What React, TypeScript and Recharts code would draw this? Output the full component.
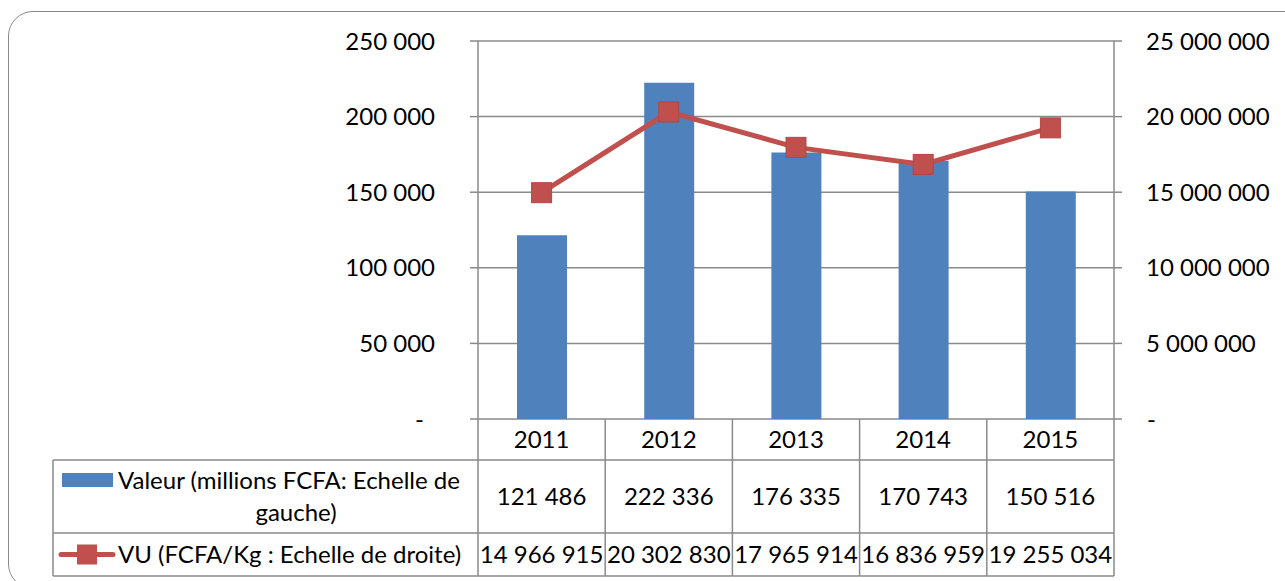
import React from "react";
import { ComposedChart, Bar, Line, XAxis, YAxis, CartesianGrid } from "recharts";

// values
const years = ["2011", "2012", "2013", "2014", "2015"];
const valeur = [121486, 222336, 176335, 170743, 150516];
const vu = [14966915, 20302830, 17965914, 16836959, 19255034];
const leftTicks = [0, 50000, 100000, 150000, 200000, 250000];
const rightTicks = [0, 5000000, 10000000, 15000000, 20000000, 25000000];
const valeurLabel = ["Valeur (millions FCFA: Echelle de", "gauche)"];
const vuLabel = "VU (FCFA/Kg : Echelle de droite)";

const data = years.map((year, i) => ({ year, valeur: valeur[i], vu: vu[i] }));

const W = 1285;
const H = 581;
const PLOT_LEFT = 478;
const PLOT_RIGHT = 1114;
const PLOT_TOP = 41;
const PLOT_BOTTOM = 419;
const BAND = (PLOT_RIGHT - PLOT_LEFT) / years.length;
const ROW1 = 41; // years row
const ROW2 = 73; // valeur row
const ROW3 = 43; // vu row
const TABLE_LEFT = 53;
const FONT = "Lato, 'Open Sans', sans-serif";
const FS = 24;
const GRAY = "#8a8a8a";
const BLUE = "#4F81BD";
const RED = "#C0504D";

const fmt = (v: number) =>
  v === 0 ? "-" : String(v).replace(/\B(?=(\d{3})+(?!\d))/g, " ");

const LeftTick = (props: any) => {
  const { x, y, payload } = props;
  const v = payload.value;
  return (
    <text x={v === 0 ? x - 11 : x} y={y} dy="0.36em" textAnchor="end" fontSize={FS} fontFamily={FONT} fill="#000">
      {fmt(v)}
    </text>
  );
};

const RightTick = (props: any) => {
  const { x, y, payload } = props;
  const v = payload.value;
  return (
    <text x={v === 0 ? x + 1 : x} y={y} dy="0.36em" textAnchor="start" fontSize={FS} fontFamily={FONT} fill="#000">
      {fmt(v)}
    </text>
  );
};

const SquareDot = (props: any) => {
  const { cx, cy, index } = props;
  if (cx == null || cy == null) return null;
  return <rect key={index} x={cx - 10} y={cy - 10} width={20} height={20} fill={RED} stroke="#B54643" strokeWidth={1} />;
};

// each x tick draws its own column of the data table
const TableTick = (props: any) => {
  const { x, y, index } = props;
  const i = props.payload?.index ?? index;
  const left = x - BAND / 2;
  const right = x + BAND / 2;
  const y1 = y + ROW1;
  const y2 = y1 + ROW2;
  const y3 = y2 + ROW3;
  const line = { stroke: GRAY, strokeWidth: 1.5 };
  const txt = { fontSize: FS, fontFamily: FONT, fill: "#000", textAnchor: "middle" as const };
  return (
    <g>
      <line x1={left} y1={y} x2={left} y2={y3} {...line} />
      {i === years.length - 1 && <line x1={right} y1={y} x2={right} y2={y3} {...line} />}
      <line x1={left} y1={y1} x2={right} y2={y1} {...line} />
      <line x1={left} y1={y2} x2={right} y2={y2} {...line} />
      <line x1={left} y1={y3} x2={right} y2={y3} {...line} />
      <text x={x} y={y + ROW1 / 2} dy="0.36em" {...txt}>{years[i]}</text>
      <text x={x} y={y1 + ROW2 / 2} dy="0.36em" {...txt}>{fmt(valeur[i])}</text>
      <text x={x} y={y2 + ROW3 / 2} dy="0.36em" {...txt}>{fmt(vu[i])}</text>
      {i === 0 && (
        <g>
          <line x1={TABLE_LEFT} y1={y1} x2={TABLE_LEFT} y2={y3} {...line} />
          <line x1={TABLE_LEFT} y1={y1} x2={left} y2={y1} {...line} />
          <line x1={TABLE_LEFT} y1={y2} x2={left} y2={y2} {...line} />
          <line x1={TABLE_LEFT} y1={y3} x2={left} y2={y3} {...line} />
          <rect x={TABLE_LEFT + 9} y={y1 + 13} width={51} height={14} fill={BLUE} />
          <text x={118} y={y1 + 20} dy="0.36em" {...txt} textAnchor="start">{valeurLabel[0]}</text>
          <text x={296} y={y1 + 52} dy="0.36em" {...txt}>{valeurLabel[1]}</text>
          <line x1={TABLE_LEFT + 8} y1={y2 + ROW3 / 2} x2={TABLE_LEFT + 60} y2={y2 + ROW3 / 2} stroke={RED} strokeWidth={5} strokeLinecap="round" />
          <rect x={TABLE_LEFT + 24} y={y2 + ROW3 / 2 - 10} width={20} height={20} fill={RED} />
          <text x={118} y={y2 + ROW3 / 2} dy="0.36em" {...txt} textAnchor="start">{vuLabel}</text>
        </g>
      )}
    </g>
  );
};

export default function App() {
  return (
    <div style={{ position: "absolute", left: 0, top: 0, width: W, height: H, background: "#fff", overflow: "hidden" }}>
      <ComposedChart
        width={W}
        height={H}
        data={data}
        margin={{ top: PLOT_TOP, right: 0, bottom: 0, left: 0 }}
        style={{ fontFamily: FONT }}
      >
        <CartesianGrid yAxisId="left" vertical={false} stroke={GRAY} strokeWidth={1.5} />
        <XAxis
          dataKey="year"
          height={H - PLOT_BOTTOM}
          axisLine={false}
          tickLine={false}
          tickSize={0}
          tickMargin={0}
          interval={0}
          tick={<TableTick />}
        />
        <YAxis
          yAxisId="left"
          orientation="left"
          width={PLOT_LEFT}
          domain={[0, 250000]}
          ticks={leftTicks}
          interval={0}
          axisLine={{ stroke: GRAY, strokeWidth: 1.5 }}
          tickLine={{ stroke: GRAY, strokeWidth: 1.5 }}
          tickSize={8}
          tickMargin={35}
          tick={<LeftTick />}
        />
        <YAxis
          yAxisId="right"
          orientation="right"
          width={W - PLOT_RIGHT}
          domain={[0, 25000000]}
          ticks={rightTicks}
          interval={0}
          axisLine={{ stroke: GRAY, strokeWidth: 1.5 }}
          tickLine={{ stroke: GRAY, strokeWidth: 1.5 }}
          tickSize={8}
          tickMargin={24}
          tick={<RightTick />}
        />
        <Bar yAxisId="left" dataKey="valeur" fill={BLUE} barSize={50} isAnimationActive={false} />
        <Line
          yAxisId="right"
          dataKey="vu"
          stroke={RED}
          strokeWidth={5}
          dot={<SquareDot />}
          activeDot={false}
          isAnimationActive={false}
        />
      </ComposedChart>
      <div
        style={{
          position: "absolute",
          left: 8,
          top: 11,
          width: 1300,
          height: 576,
          border: `1.5px solid ${GRAY}`,
          borderRadius: 25,
          pointerEvents: "none",
        }}
      />
    </div>
  );
}
